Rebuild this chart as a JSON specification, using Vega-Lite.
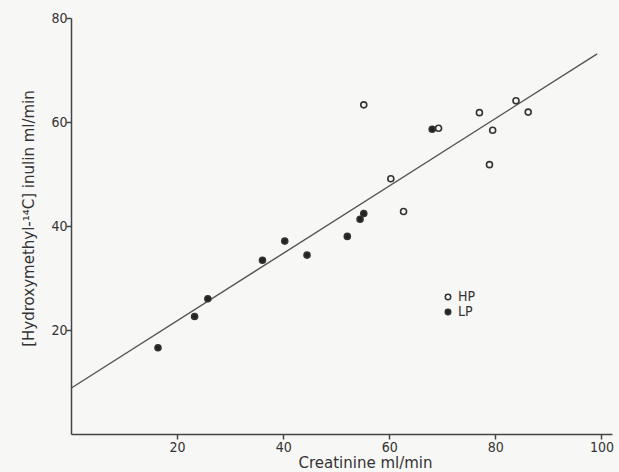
{
  "$schema": "https://vega.github.io/schema/vega-lite/v6.json",
  "width": 541,
  "height": 416,
  "autosize": {"type": "none"},
  "padding": {"left": 71, "top": 18, "right": 7, "bottom": 38},
  "background": "#f7f7f5",
  "config": {
    "view": {"stroke": null},
    "font": "DejaVu Sans Condensed",
    "axis": {
      "grid": false,
      "domainColor": "#444",
      "domainWidth": 1.5,
      "tickColor": "#444",
      "tickWidth": 1.5,
      "tickSize": 5,
      "labelColor": "#333",
      "titleColor": "#333",
      "labelFontSize": 14,
      "titleFontSize": 15,
      "titleFontWeight": "normal",
      "labelFont": "DejaVu Sans Condensed",
      "titleFont": "DejaVu Sans"
    }
  },
  "layer": [
    {
      "data": {"values": [{"x": 0, "y": 8.8}, {"x": 99.2, "y": 73.1}]},
      "mark": {"type": "line", "color": "#555", "strokeWidth": 1.4},
      "encoding": {
        "x": {"field": "x", "type": "quantitative", "title": "Creatinine ml/min"},
        "y": {"field": "y", "type": "quantitative", "title": "[Hydroxymethyl-¹⁴C] inulin ml/min"}
      }
    },
    {
      "data": {"values": [
        {"creatinine": 55.2, "inulin": 63.3, "group": "HP"},
        {"creatinine": 77.0, "inulin": 61.8, "group": "HP"},
        {"creatinine": 83.9, "inulin": 64.1, "group": "HP"},
        {"creatinine": 86.2, "inulin": 61.9, "group": "HP"},
        {"creatinine": 69.3, "inulin": 58.8, "group": "HP"},
        {"creatinine": 79.5, "inulin": 58.4, "group": "HP"},
        {"creatinine": 78.9, "inulin": 51.8, "group": "HP"},
        {"creatinine": 60.3, "inulin": 49.1, "group": "HP"},
        {"creatinine": 62.7, "inulin": 42.8, "group": "HP"},
        {"creatinine": 16.4, "inulin": 16.6, "group": "LP"},
        {"creatinine": 23.3, "inulin": 22.6, "group": "LP"},
        {"creatinine": 25.8, "inulin": 26.0, "group": "LP"},
        {"creatinine": 36.1, "inulin": 33.4, "group": "LP"},
        {"creatinine": 40.3, "inulin": 37.1, "group": "LP"},
        {"creatinine": 44.5, "inulin": 34.4, "group": "LP"},
        {"creatinine": 52.1, "inulin": 38.0, "group": "LP"},
        {"creatinine": 54.5, "inulin": 41.3, "group": "LP"},
        {"creatinine": 55.2, "inulin": 42.4, "group": "LP"},
        {"creatinine": 68.1, "inulin": 58.6, "group": "LP"}
      ]},
      "mark": {"type": "point", "shape": "circle", "filled": true, "size": 36, "stroke": "#333", "strokeWidth": 1.6, "opacity": 1},
      "encoding": {
        "x": {
          "field": "creatinine", "type": "quantitative", "title": "Creatinine ml/min",
          "scale": {"domain": [0, 102], "nice": false, "zero": true},
          "axis": {
            "values": [20, 40, 60, 80, 100], "labelPadding": 1,
            "titleX": 294, "titleY": 21, "titleAnchor": "middle", "titleBaseline": "top",
            "encode": {"ticks": {"update": {"y2": {"value": -6}}}}
          }
        },
        "y": {
          "field": "inulin", "type": "quantitative", "title": "[Hydroxymethyl-¹⁴C] inulin ml/min",
          "scale": {"domain": [0, 80], "nice": false},
          "axis": {
            "values": [20, 40, 60, 80], "labelPadding": -1,
            "titleX": -43, "titleY": 200, "titleAnchor": "middle", "titleBaseline": "middle",
            "encode": {"ticks": {"update": {"x2": {"value": 6}}}}
          }
        },
        "fill": {
          "field": "group", "type": "nominal",
          "scale": {"domain": ["HP", "LP"], "range": ["#f7f7f5", "#222"]},
          "legend": {
            "title": null,
            "orient": "none",
            "legendX": 370,
            "legendY": 272,
            "labelFontSize": 14,
            "labelColor": "#333",
            "labelFont": "DejaVu Sans Condensed",
            "symbolSize": 30,
            "symbolStrokeColor": "#333",
            "symbolStrokeWidth": 1.5,
            "rowPadding": 1,
            "labelOffset": 3
          }
        }
      }
    }
  ],
  "encoding": {}
}
